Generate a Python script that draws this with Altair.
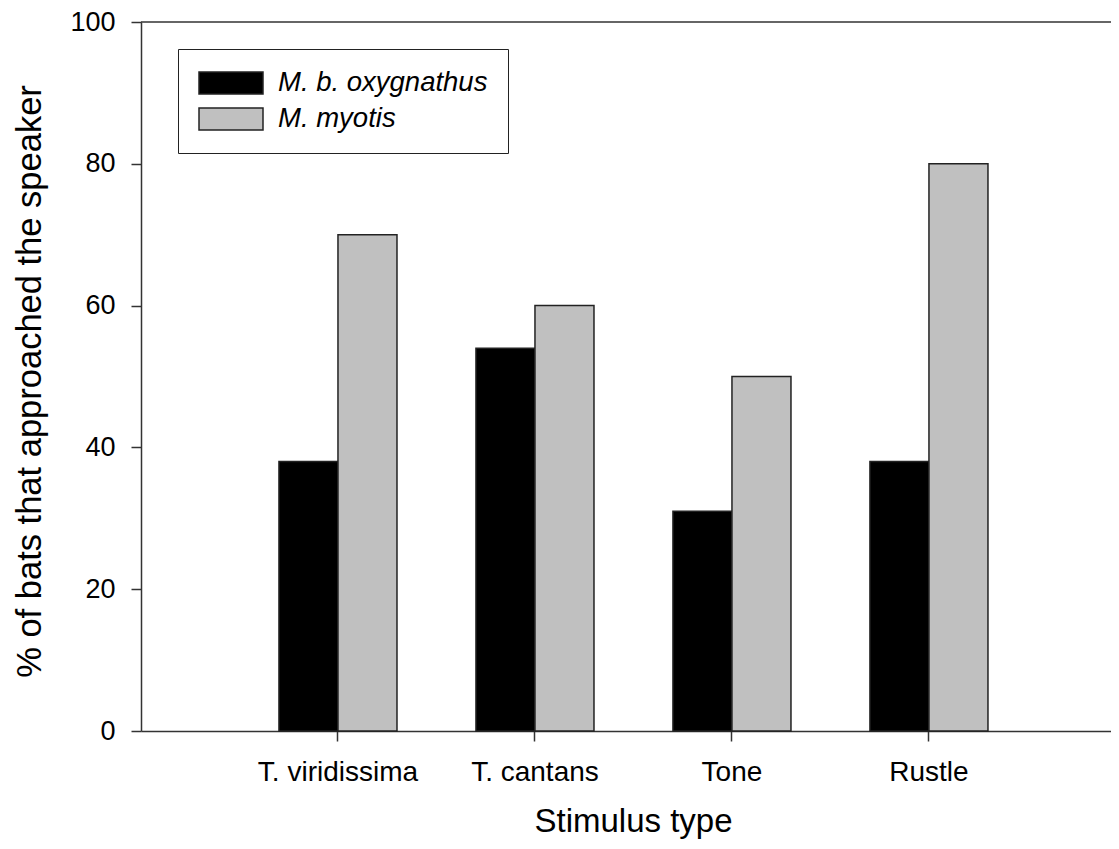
import altair as alt
import pandas as pd

stimuli = ["T. viridissima", "T. cantans", "Tone", "Rustle"]
species = ["M. b. oxygnathus", "M. myotis"]
oxygnathus = [38, 54, 31, 38]
myotis = [70, 60, 50, 80]
y_ticks = [0, 20, 40, 60, 80, 100]
bar_colors = ["#000000", "#c0c0c0"]

rows = []
for s, a, b in zip(stimuli, oxygnathus, myotis):
    rows.append({"stimulus": s, "species": species[0], "pct": a})
    rows.append({"stimulus": s, "species": species[1], "pct": b})
df = pd.DataFrame(rows)

W, H = 970, 709
FONT = "Liberation Sans"
LINE = "#333333"

bars = alt.Chart(df).mark_bar(stroke="#222222", strokeWidth=1.5).encode(
    x=alt.X(
        "stimulus:N",
        sort=stimuli,
        scale=alt.Scale(paddingInner=0, paddingOuter=0.462, align=0.541),
        axis=alt.Axis(
            title="Stimulus type",
            labelAngle=0,
            labelFontSize=28,
            labelPadding=17,
            tickSize=10,
            titleFontSize=33,
            titleFontWeight="normal",
            titleX=492,
            titleY=100,
            titleAlign="center",
            titleBaseline="alphabetic",
        ),
    ),
    xOffset=alt.XOffset(
        "species:N", sort=species, scale=alt.Scale(paddingInner=0, paddingOuter=0.669)
    ),
    y=alt.Y(
        "pct:Q",
        scale=alt.Scale(domain=[0, 100], nice=False),
        axis=alt.Axis(
            title="% of bats that approached the speaker",
            values=y_ticks,
            grid=False,
            labelFontSize=27,
            labelPadding=16,
            tickSize=10,
            titleFontSize=34.5,
            titleFontWeight="normal",
            titleAngle=270,
            titleX=-101,
            titleY=359,
            titleAlign="center",
            titleBaseline="alphabetic",
        ),
    ),
    color=alt.Color(
        "species:N",
        sort=species,
        scale=alt.Scale(domain=species, range=bar_colors),
        legend=alt.Legend(
            title=None,
            orient="none",
            legendX=37,
            legendY=27,
            direction="vertical",
            symbolType="M-1,-0.34H1V0.34H-1Z",
            symbolSize=4096,
            symbolStrokeColor="#222222",
            symbolStrokeWidth=1.5,
            clipHeight=28,
            rowPadding=8,
            labelFontSize=27.5,
            labelFontStyle="italic",
            labelOffset=14,
            labelLimit=0,
            padding=20,
            strokeColor="#222222",
            fillColor="white",
        ),
    ),
)

top_line = alt.Chart(alt.Data(values=[{}])).mark_rule(color=LINE, strokeWidth=1.5).encode(
    x=alt.value(0), x2=alt.value(W), y=alt.value(0)
)

chart = (
    alt.layer(bars, top_line)
    .properties(
        width=W,
        height=H,
        padding={"left": 133, "top": 14, "right": 0, "bottom": 109},
        autosize=alt.AutoSizeParams(type="none"),
    )
    .configure_view(stroke="transparent")
    .configure_axis(
        labelFont=FONT,
        titleFont=FONT,
        labelColor="black",
        titleColor="black",
        domainColor=LINE,
        domainWidth=1.5,
        tickColor=LINE,
        tickWidth=1.5,
    )
    .configure_legend(labelFont=FONT, labelColor="black")
)

chart.save("out.html", embed_options={"renderer": "svg", "actions": False})
